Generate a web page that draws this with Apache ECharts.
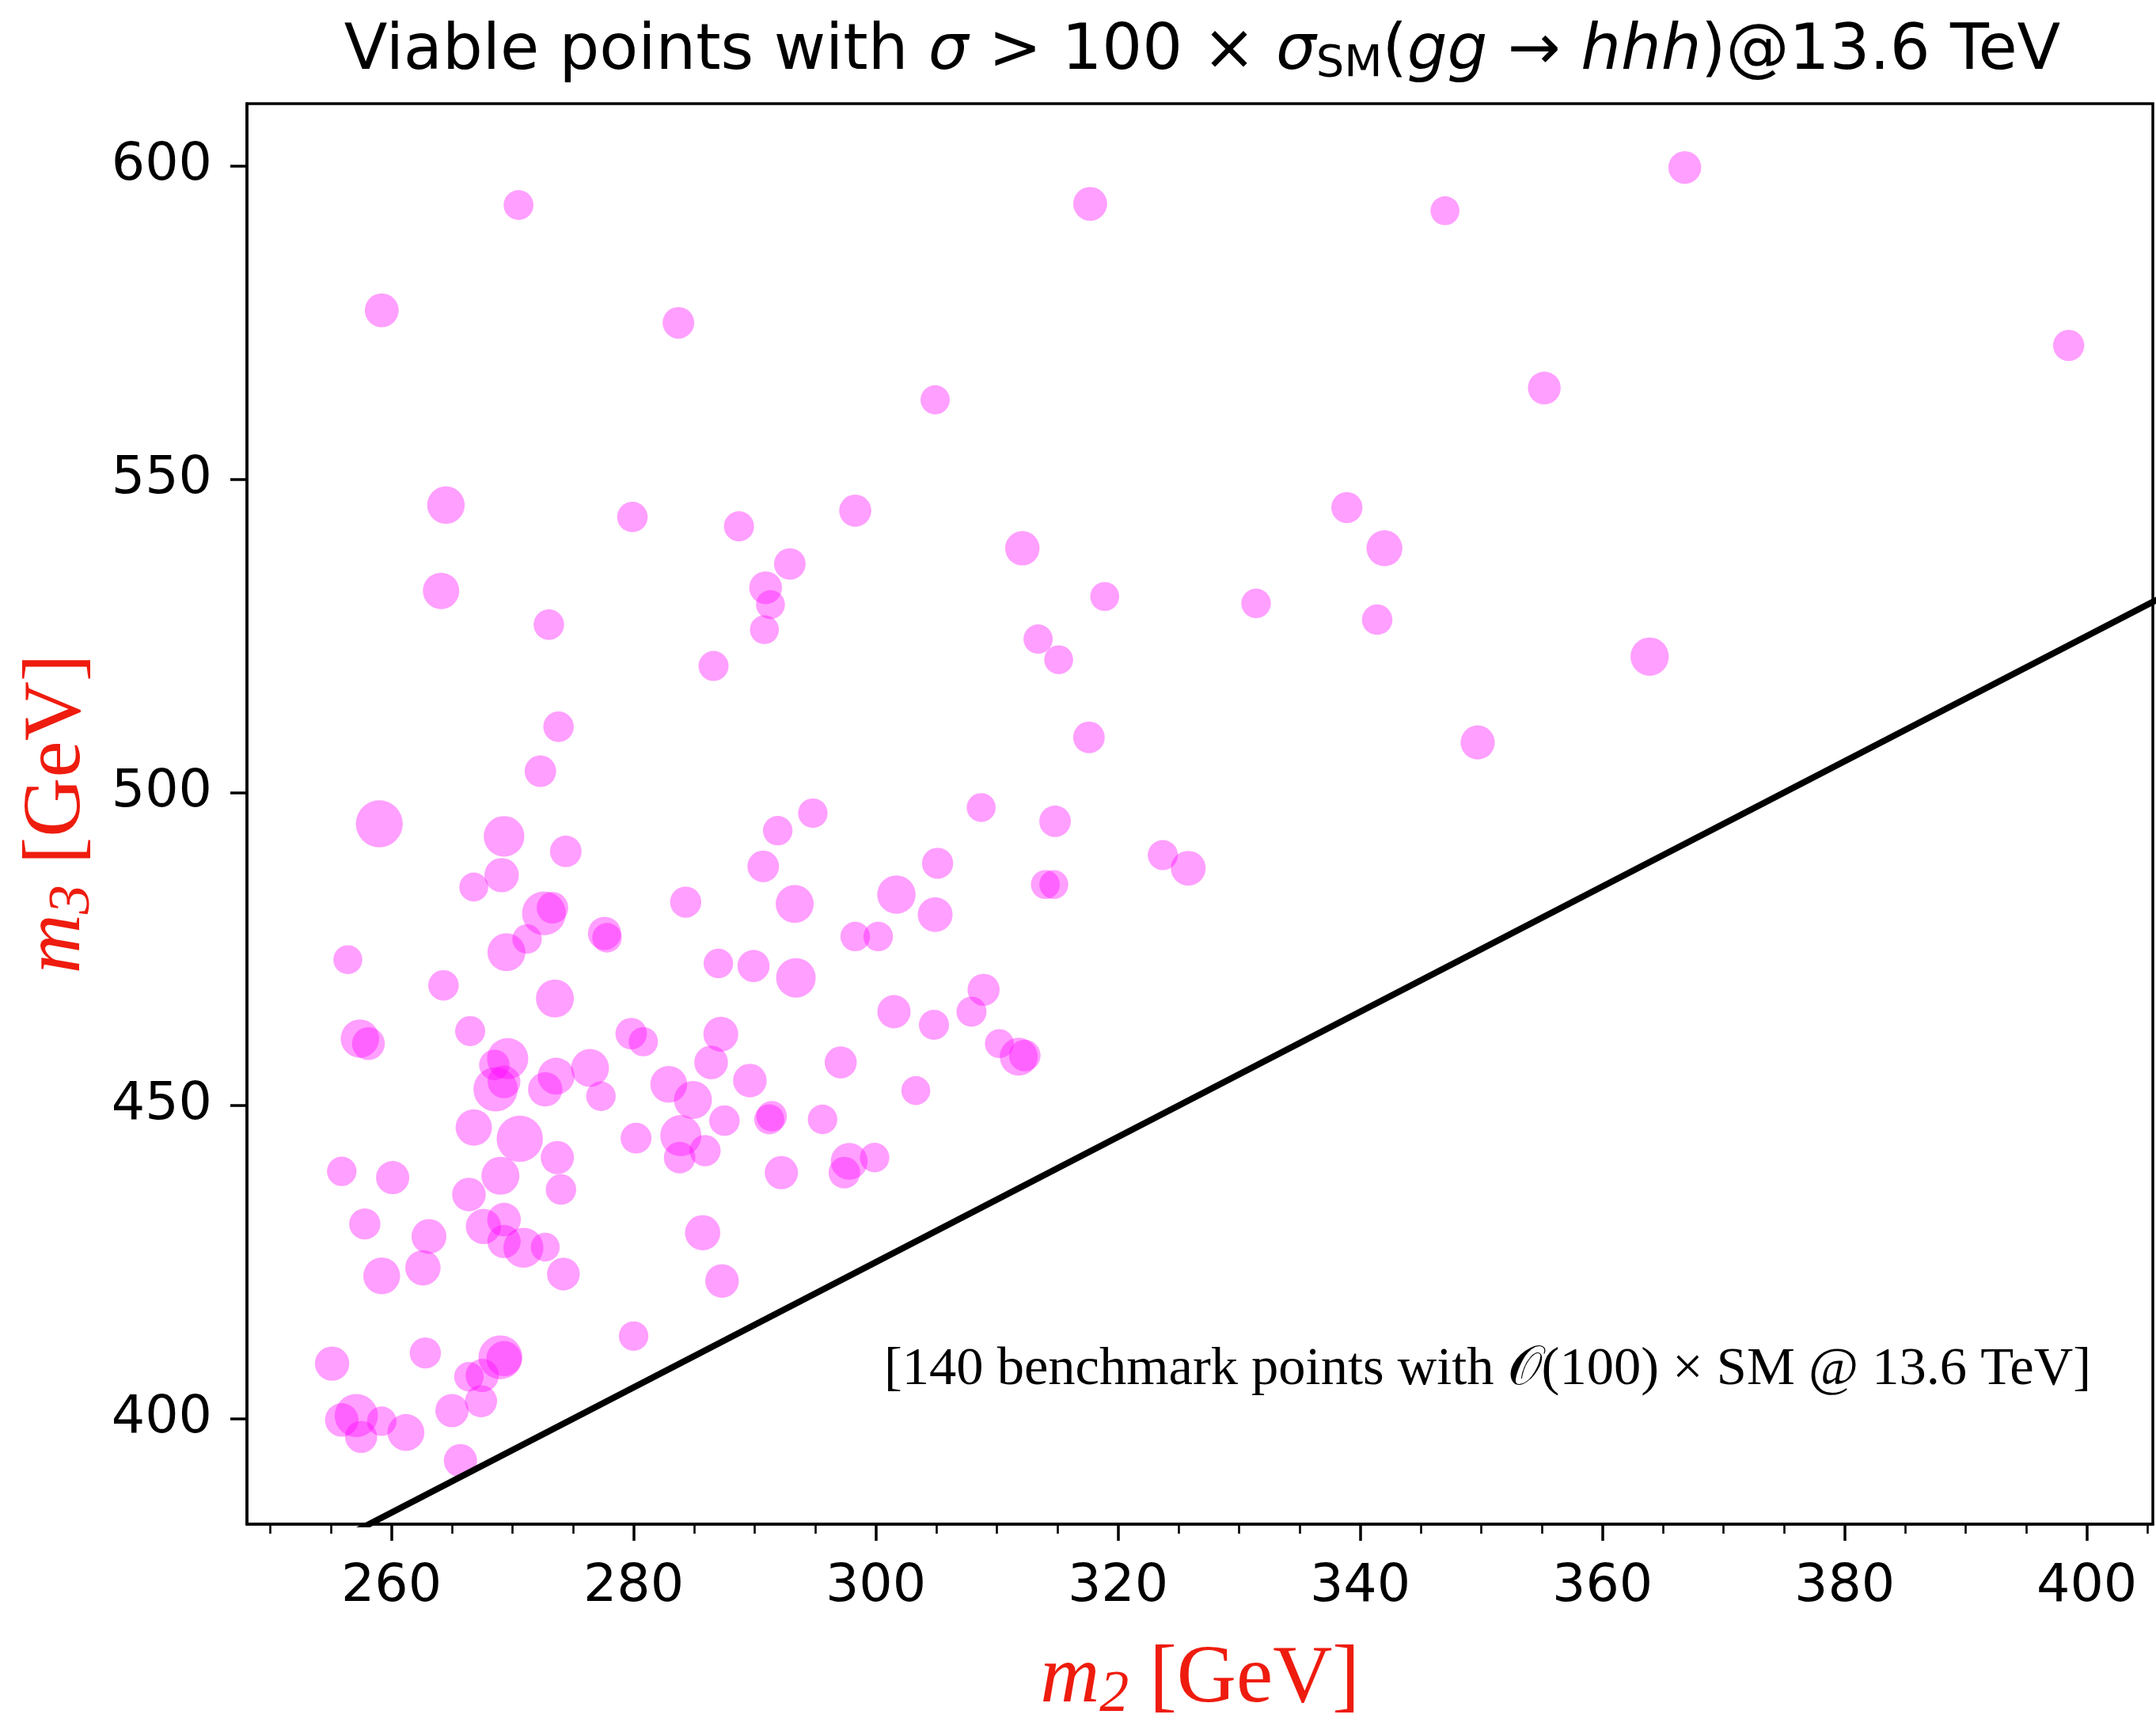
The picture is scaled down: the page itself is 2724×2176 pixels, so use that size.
<!DOCTYPE html>
<html><head><meta charset="utf-8">
<script src="https://cdn.jsdelivr.net/npm/echarts@6/dist/echarts.min.js"></script>
<style>html,body{margin:0;padding:0;background:#fff}#c{width:2724px;height:2176px}</style>
</head><body><div id="c"></div>
<script>
// m2 [GeV]
const m2 = [
270.5,259.2,283.7,317.7,304.9,347.0,366.8,398.5,355.2,264.5,
264.1,279.9,288.7,298.3,292.9,290.9,291.3,290.8,273.0,286.6,
312.1,318.9,313.4,315.1,331.4,338.9,342.0,341.4,363.9,349.7,
317.6,273.8,272.3,259.0,269.3,269.1,266.8,274.4,272.6,273.3,
271.2,269.5,256.4,264.3,273.5,257.4,258.1,266.5,269.6,268.5,
269.3,268.6,272.7,273.6,276.4,277.3,266.8,270.6,269.0,273.7,
274.0,255.9,260.1,266.4,257.8,267.6,269.3,263.1,269.3,270.9,
272.7,259.2,262.6,274.2,255.1,262.8,269.0,269.3,266.4,267.5,
267.4,255.9,257.1,257.5,259.2,261.2,265.0,265.7,277.6,277.8,
284.3,279.8,280.8,280.2,282.9,284.9,283.9,283.8,285.9,286.4,
287.2,287.0,287.5,289.6,289.9,290.7,291.9,294.8,293.3,293.4,
285.7,287.3,291.4,291.2,292.2,295.6,297.1,297.8,297.4,299.9,
298.3,300.2,301.7,301.5,303.3,305.1,304.9,304.8,308.7,307.9,
308.9,310.2,311.8,312.3,314.0,314.7,314.8,323.7,325.8,280.0];
// m3 [GeV]
const m3 = [
593.8,577.0,575.0,594.0,562.7,592.9,599.8,571.4,564.6,545.9,
532.2,544.0,542.5,545.0,536.5,532.7,530.0,526.0,526.8,520.2,
539.0,531.3,524.5,521.2,530.2,545.5,539.0,527.6,521.7,508.0,
508.8,510.5,503.4,495.0,493.0,486.8,484.9,490.6,480.7,481.6,
476.6,474.5,473.3,469.2,467.1,460.7,459.9,461.9,457.5,456.5,
453.8,452.6,452.6,454.7,456.0,451.5,446.5,444.7,438.8,441.7,
436.6,439.5,438.5,435.8,431.1,430.7,431.8,429.1,428.3,427.3,
427.4,422.8,424.1,423.1,408.8,410.5,409.8,409.6,406.7,406.9,
402.8,399.8,400.5,397.1,399.6,397.8,401.3,393.3,477.5,476.8,
482.5,461.5,460.2,444.8,453.4,450.9,445.2,441.7,442.8,456.9,
461.4,472.7,447.6,454.0,472.3,488.2,493.9,496.7,482.2,470.4,
429.7,422.0,448.3,447.8,439.3,447.8,456.9,441.1,439.3,441.7,
477.0,477.0,483.7,465.0,452.4,488.7,480.5,462.9,497.6,465.0,
468.5,459.9,457.8,458.0,485.3,485.3,495.4,490.0,487.9,413.2];
// sigma / sigma_SM (marker area)
const xsRatio = [
106,137,119,137,102,100,128,116,128,168,
158,111,108,123,119,128,100,100,111,108,
141,100,102,100,104,116,154,111,175,139,
119,111,119,263,197,141,100,119,229,119,
104,172,100,111,172,176,128,108,202,111,
128,234,141,162,172,104,158,256,172,132,
111,104,132,135,116,149,135,145,132,191,
100,162,149,128,141,116,229,149,104,132,
123,135,223,123,104,162,132,132,132,104,
116,119,102,114,162,172,202,119,116,135,
145,104,111,135,123,119,104,104,172,187,
149,135,111,108,132,104,123,162,119,104,
104,104,176,132,100,116,145,108,100,108,
123,100,172,119,100,100,119,108,145,104];
// kinematic threshold m3 = m2 + m1
const thresholdM2 = [240, 420];
const thresholdM3 = [365, 545];
const xTicks = [260,280,300,320,340,360,380,400];
const xMinorTicks = [250,255,265,270,275,285,290,295,305,310,315,325,330,335,345,350,355,365,370,375,385,390,395,405];
const yTicks = [400,450,500,550,600];

const chart = echarts.init(document.getElementById('c'), null, {renderer:'canvas'});
const tickFont = {fontFamily:'DejaVu Sans', fontSize:66.7, color:'#000'};
const red = '#ee1c0e';
chart.setOption({
  animation:false,
  backgroundColor:'#fff',
  title:{
    left:1514, top:18, textAlign:'center',
    text:'{n|Viable points with }{i|σ}{n| > 100 × }{i|σ}{s|SM}{n|(}{i|gg}{n| → }{i|hhh}{n|)@13.6 TeV}',
    textStyle:{fontWeight:'normal', rich:{
      n:{fontFamily:'DejaVu Sans', fontWeight:'normal', fontSize:80, color:'#000'},
      i:{fontFamily:'DejaVu Sans', fontWeight:'normal', fontStyle:'italic', fontSize:80, color:'#000'},
      s:{fontFamily:'DejaVu Sans', fontWeight:'normal', fontSize:56, color:'#000', padding:[30,0,0,0]}
    }}
  },
  grid:{left:312, right:4, top:131, bottom:250, show:true, borderColor:'#000', borderWidth:3.5,
        backgroundColor:'transparent', containLabel:false, outerBoundsMode:'none'},
  xAxis:[{
    type:'value', min:248.07, max:405.45, position:'bottom',
    axisLine:{show:true, onZero:false, lineStyle:{color:'#000', width:3.5}},
    axisTick:{show:true, customValues:xTicks, length:21, lineStyle:{color:'#000', width:3.5}},
    axisLabel:Object.assign({customValues:xTicks, margin:46}, tickFont),
    splitLine:{show:false},
    name:'{m|m}{sub|2}{t| [GeV]}', nameLocation:'middle', nameGap:140,
    nameTextStyle:{rich:{
      m:{fontFamily:'Liberation Serif', fontStyle:'italic', fontSize:104, color:red},
      sub:{fontFamily:'Liberation Serif', fontStyle:'italic', fontSize:74, color:red, padding:[40,0,0,0]},
      t:{fontFamily:'Liberation Serif', fontSize:104, color:red}
    }}
  },{
    type:'value', min:248.07, max:405.45, position:'bottom',
    axisLine:{show:false},
    axisTick:{show:true, customValues:xMinorTicks, length:12, lineStyle:{color:'#000', width:2.6}},
    axisLabel:{show:false}, splitLine:{show:false}
  }],
  yAxis:[{
    type:'value', min:383.16, max:610.0, position:'left',
    axisLine:{show:true, onZero:false, lineStyle:{color:'#000', width:3.5}},
    axisTick:{show:true, customValues:yTicks, length:21, lineStyle:{color:'#000', width:3.5}},
    axisLabel:Object.assign({customValues:yTicks, margin:44}, tickFont),
    splitLine:{show:false},
    name:'{m|m}{sub|3}{t| [GeV]}', nameLocation:'middle', nameGap:180, nameRotate:90,
    nameTextStyle:{rich:{
      m:{fontFamily:'Liberation Serif', fontStyle:'italic', fontSize:104, color:red},
      sub:{fontFamily:'Liberation Serif', fontStyle:'italic', fontSize:74, color:red, padding:[40,0,0,0]},
      t:{fontFamily:'Liberation Serif', fontSize:104, color:red}
    }}
  }],
  graphic:[{
    type:'text', left:1117, top:1697, z:10,
    style:{text:'[140 benchmark points with 𝒪(100) × SM @ 13.6 TeV]', font:'68.5px "Liberation Serif"', fill:'#000'}
  }],
  series:[{
    type:'scatter', xAxisIndex:0, yAxisIndex:0, z:2,
    data:m2.map((x,i)=>[x, m3[i], xsRatio[i]]),
    symbolSize:(v)=>36.6*Math.sqrt(v[2]/100),
    itemStyle:{color:'rgba(255,0,255,0.47)'},
    emphasis:{disabled:true}
  },{
    type:'line', xAxisIndex:0, yAxisIndex:0, z:3, clip:true,
    data:thresholdM2.map((x,i)=>[x, thresholdM3[i]]),
    symbol:'none', lineStyle:{color:'#000', width:8}, emphasis:{disabled:true}
  }]
});
</script></body></html>
